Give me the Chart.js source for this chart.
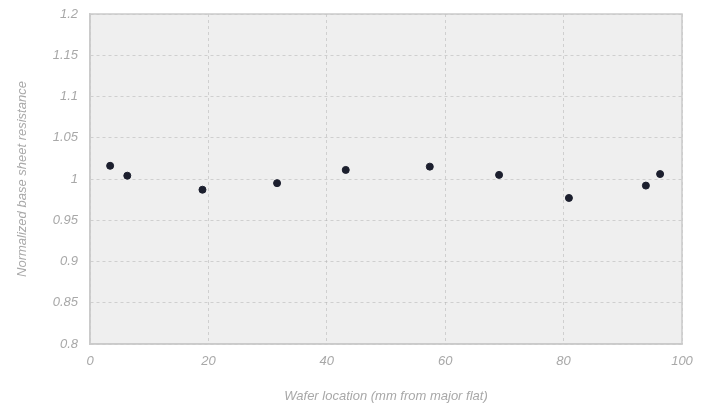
<!DOCTYPE html>
<html>
<head>
<meta charset="utf-8">
<script src="https://cdn.jsdelivr.net/npm/chart.js@4"></script>
<style>
  html, body { margin: 0; padding: 0; background: #fff; }
  #wrap { width: 703px; height: 408px; }
</style>
</head>
<body>
<div id="wrap"><canvas id="scatter"></canvas></div>
<script>
const location_mm = [3.4, 6.3, 19.0, 31.6, 43.2, 57.4, 69.1, 80.9, 93.9, 96.3];
const resistance = [1.016, 1.004, 0.987, 0.995, 1.011, 1.015, 1.005, 0.977, 0.992, 1.006];
const xTicks = [0, 20, 40, 60, 80, 100];
const yTicks = [0.8, 0.85, 0.9, 0.95, 1, 1.05, 1.1, 1.15, 1.2];

const textColor = '#a8a8a8';
const gridColor = 'rgba(175,175,175,0.5)';
const frameColor = '#cacaca';

Chart.defaults.font.family = "'Liberation Sans Narrow', 'Liberation Sans', Arial, sans-serif";
Chart.defaults.font.style = 'italic';
Chart.defaults.font.size = 13;
Chart.defaults.color = textColor;

// grey plot background + box frame
const plotBg = {
  id: 'plotBg',
  beforeDraw(chart) {
    const { ctx, chartArea: a } = chart;
    ctx.save();
    ctx.fillStyle = '#efefef';
    ctx.fillRect(a.left, a.top, a.right - a.left, a.bottom - a.top);
    ctx.restore();
  },
  afterDraw(chart) {
    const { ctx, chartArea: a } = chart;
    ctx.save();
    ctx.strokeStyle = frameColor;
    ctx.lineWidth = 1.5;
    ctx.strokeRect(a.left, a.top, a.right - a.left, a.bottom - a.top);
    ctx.restore();
  }
};

new Chart(document.getElementById('scatter'), {
  type: 'scatter',
  data: {
    datasets: [{
      data: location_mm.map((x, i) => ({ x, y: resistance[i] })),
      backgroundColor: '#1c1f2e',
      borderColor: '#1c1f2e',
      pointRadius: 3.5,
      pointHoverRadius: 4
    }]
  },
  options: {
    responsive: true,
    maintainAspectRatio: false,
    animation: false,
    layout: { padding: { left: 0, right: 21, top: 14, bottom: 0 } },
    plugins: { legend: { display: false }, tooltip: { enabled: false } },
    scales: {
      x: {
        type: 'linear',
        min: 0, max: 100,
        afterBuildTicks: s => { s.ticks = xTicks.map(v => ({ value: v })); },
        afterFit: s => { s.height = 64; s.paddingLeft = 0; s.paddingRight = 0; },
        grid: { color: gridColor, drawTicks: false },
        border: { display: true, color: frameColor, width: 1.5, dash: [3, 3] },
        ticks: { padding: 10, color: textColor },
        title: { display: true, text: 'Wafer location (mm from major flat)', color: textColor, padding: { top: 4 } }
      },
      y: {
        min: 0.8, max: 1.2,
        afterBuildTicks: s => { s.ticks = yTicks.map(v => ({ value: v })); },
        afterFit: s => { s.width = 90; s.paddingTop = 0; s.paddingBottom = 0; },
        grid: { color: gridColor, drawTicks: false },
        border: { display: true, color: frameColor, width: 1.5, dash: [3, 3] },
        ticks: { padding: 12, color: textColor, callback: v => String(+v.toFixed(2)) },
        title: { display: true, text: 'Normalized base sheet resistance', color: textColor, padding: { top: 15, bottom: 0 } }
      }
    }
  },
  plugins: [plotBg]
});
</script>
</body>
</html>
